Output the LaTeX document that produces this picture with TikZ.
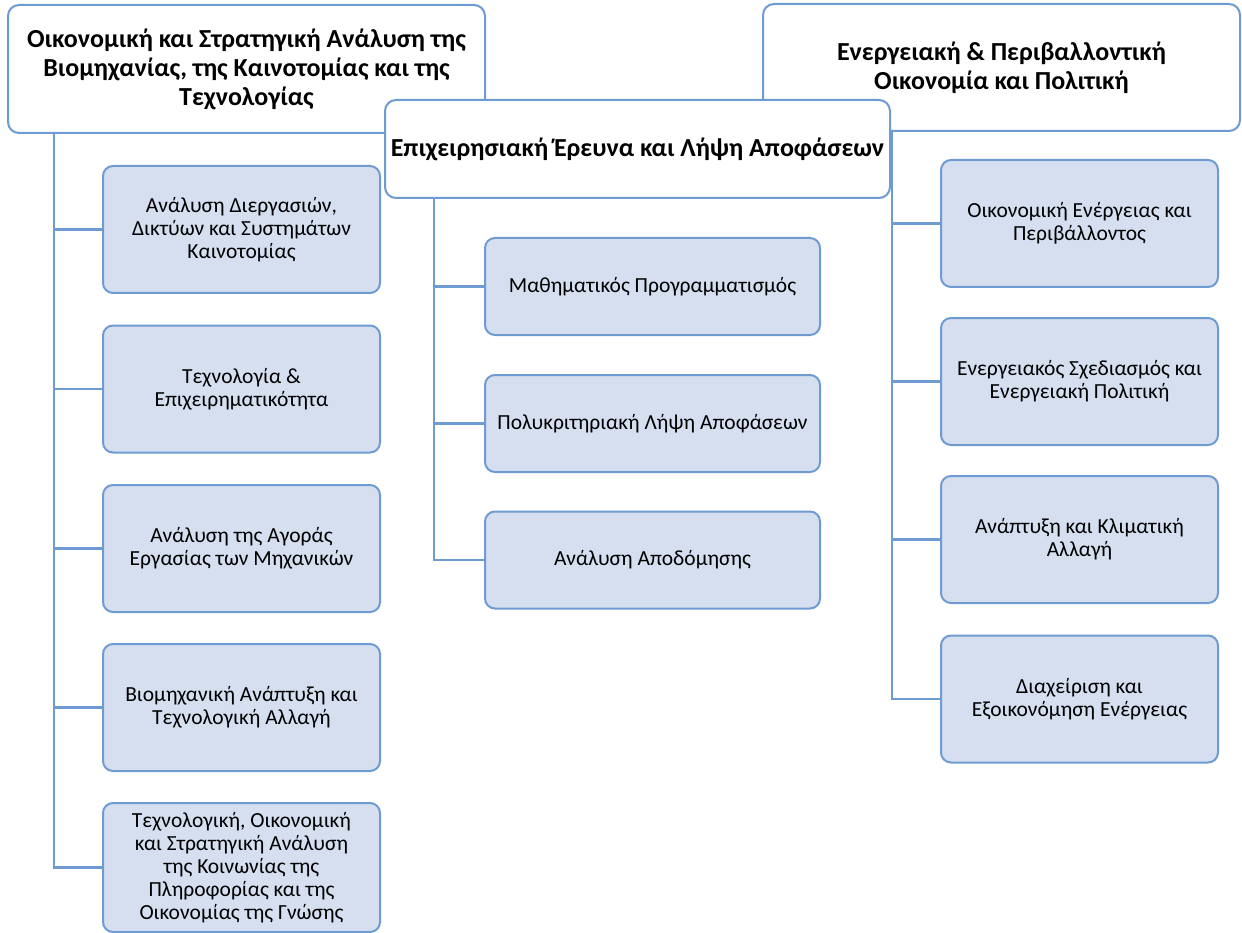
\documentclass[tikz,border=0pt]{standalone}
\usepackage{fontspec}
\setmainfont{Carlito}
\usetikzlibrary{positioning}
\definecolor{edgeblue}{RGB}{110,155,210}
\definecolor{boxfill}{RGB}{214,223,240}
\begin{document}
\begin{tikzpicture}[x=1pt,y=-1pt,
    topic/.style={draw=edgeblue,line width=2pt,fill=white,rounded corners=11pt,
      align=center,font=\fontsize{26}{29}\selectfont\bfseries,inner sep=0pt},
    area/.style={draw=edgeblue,line width=2pt,fill=boxfill,rounded corners=10pt,
      align=center,font=\fontsize{21.5}{23}\selectfont,inner sep=0pt,
      minimum width=277pt,minimum height=127pt},
    link/.style={draw=edgeblue,line width=2.2pt}]
   \useasboundingbox (0,0) rectangle (1242,933);
   % left column
   \node[topic,minimum width=477pt,minimum height=128pt] (t_1) at (246.5,69)
     {Οικονομική και Στρατηγική Ανάλυση της\\Βιομηχανίας, της Καινοτομίας και της\\Τεχνολογίας};
   \node[area] (a_1) at (241.5,229.5) {Ανάλυση Διεργασιών,\\Δικτύων και Συστημάτων\\Καινοτομίας};
   \node[area] (a_2) at (241.5,389) {Τεχνολογία \&\\Επιχειρηματικότητα};
   \node[area] (a_3) at (241.5,548.5) {Ανάλυση της Αγοράς\\Εργασίας των Μηχανικών};
   \node[area] (a_4) at (241.5,707.5) {Βιομηχανική Ανάπτυξη και\\Τεχνολογική Αλλαγή};
   \node[area,minimum height=129pt] (a_5) at (241.5,867.5)
     {Τεχνολογική, Οικονομική\\και Στρατηγική Ανάλυση\\της Κοινωνίας της\\Πληροφορίας και της\\Οικονομίας της Γνώσης};
   % right column
   \node[topic,minimum width=477pt,minimum height=127pt] (t_3) at (1001.5,67.5)
     {Ενεργειακή \& Περιβαλλοντική\\Οικονομία και Πολιτική};
   \node[area] (c_1) at (1079.5,223.5) {Οικονομική Ενέργειας και\\Περιβάλλοντος};
   \node[area] (c_2) at (1079.5,381.5) {Ενεργειακός Σχεδιασμός και\\Ενεργειακή Πολιτική};
   \node[area] (c_3) at (1079.5,539.5) {Ανάπτυξη και Κλιματική\\Αλλαγή};
   \node[area] (c_4) at (1079.5,699) {Διαχείριση και\\Εξοικονόμηση Ενέργειας};
   \path[link] ([xshift=130pt]t_3.south west) |- (c_1.west)
               ([xshift=130pt]t_3.south west) |- (c_2.west)
               ([xshift=130pt]t_3.south west) |- (c_3.west)
               ([xshift=130pt]t_3.south west) |- (c_4.west);
   % middle column
   \node[topic,minimum width=505pt,minimum height=98pt] (t_2) at (637.5,149)
     {Επιχειρησιακή Έρευνα και Λήψη Αποφάσεων};
   \node[area,minimum width=335pt,minimum height=97pt] (b_1) at (652.5,286.5) {Μαθηματικός Προγραμματισμός};
   \node[area,minimum width=335pt,minimum height=97pt] (b_2) at (652.5,423.5) {Πολυκριτηριακή Λήψη Αποφάσεων};
   \node[area,minimum width=335pt,minimum height=97pt] (b_3) at (652.5,560) {Ανάλυση Αποδόμησης};
   \path[link] ([xshift=50pt]t_2.south west) |- (b_1.west)
               ([xshift=50pt]t_2.south west) |- (b_2.west)
               ([xshift=50pt]t_2.south west) |- (b_3.west);
   \path[link] ([xshift=47pt]t_1.south west) |- (a_1.west)
               ([xshift=47pt]t_1.south west) |- (a_2.west)
               ([xshift=47pt]t_1.south west) |- (a_3.west)
               ([xshift=47pt]t_1.south west) |- (a_4.west)
               ([xshift=47pt]t_1.south west) |- (a_5.west);
  \end{tikzpicture}
\end{document}
